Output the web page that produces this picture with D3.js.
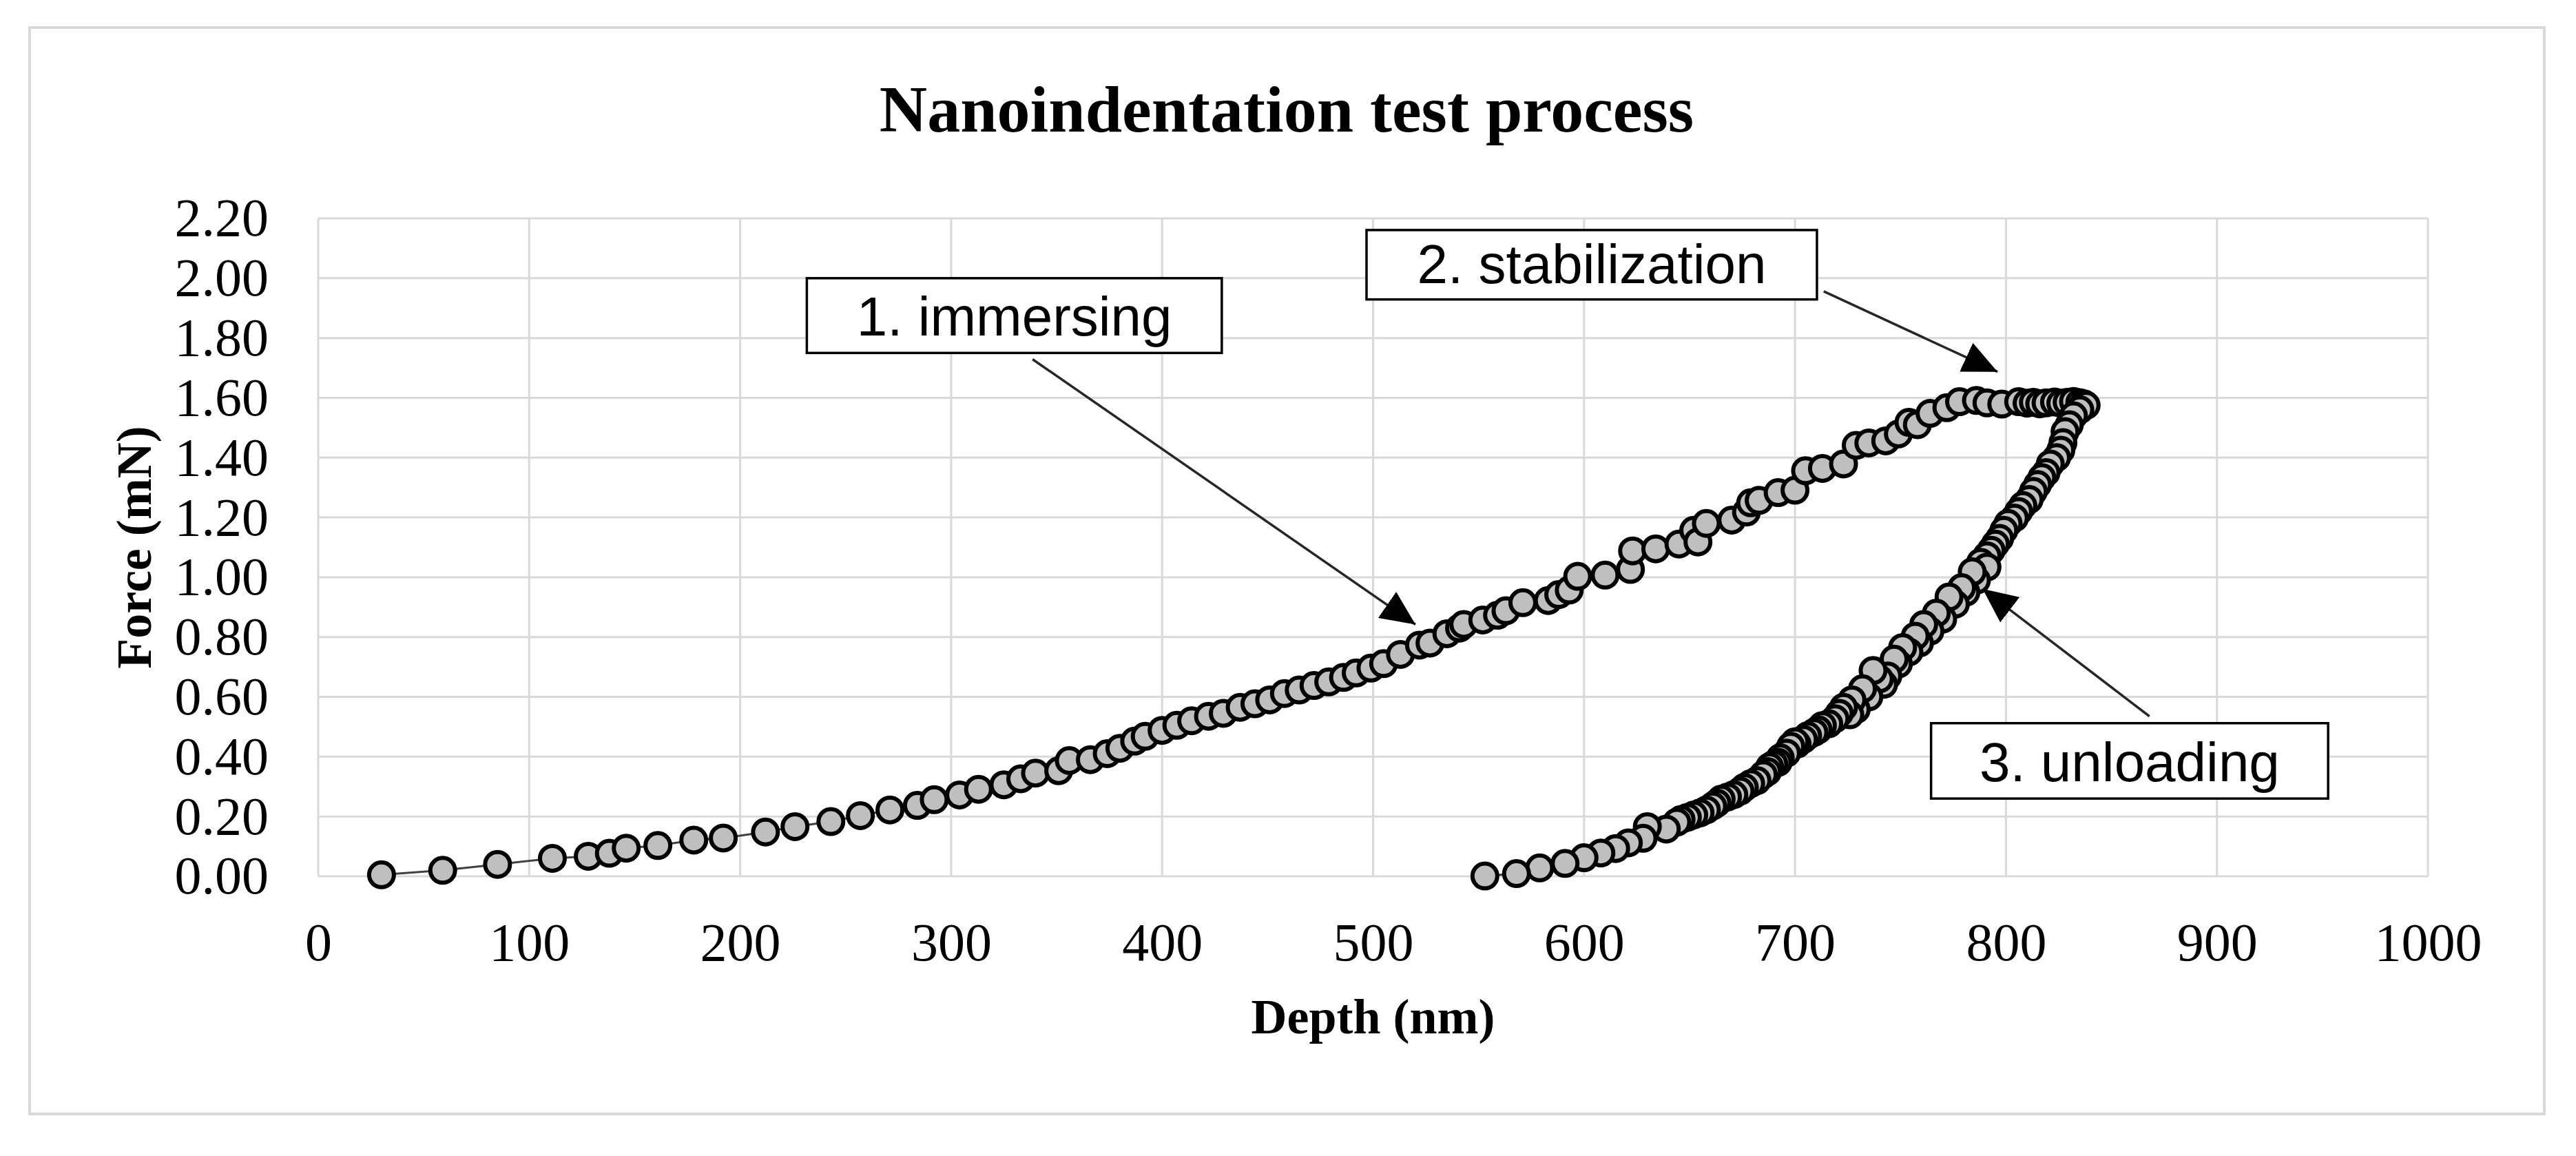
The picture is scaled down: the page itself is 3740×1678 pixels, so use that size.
<!DOCTYPE html>
<html>
<head>
<meta charset="utf-8">
<script src="https://cdn.jsdelivr.net/npm/d3@7"></script>
<style>
  body { margin: 0; background: #fff; }
</style>
</head>
<body>
<div id="chart"></div>
<script>
// loading branch (depth in nm, force in mN)
const loadDepth = [30, 59, 85, 111, 128, 138, 146, 161, 178, 192,
  212, 226, 243, 257, 271, 284, 292, 304, 313, 325,
  333, 340, 351, 356, 366, 374, 380, 387, 392, 400,
  407, 414, 422, 429, 437, 444, 451, 458, 465, 472,
  479, 486, 492, 499, 505, 513, 522, 527, 535, 541,
  543, 552, 559, 563, 571, 583, 588, 593, 597, 610,
  622, 623, 634, 645, 652, 654, 658, 670, 677, 679,
  683, 692, 700, 705, 713, 723, 729, 735, 743, 749,
  754, 758, 764, 772, 778, 786, 791, 798, 806, 810,
  813, 816, 819, 823, 826, 829, 832, 835, 837];
const loadForce = [0.005, 0.02, 0.04, 0.06, 0.067, 0.077, 0.094, 0.103, 0.121, 0.128,
  0.148, 0.166, 0.183, 0.203, 0.222, 0.237, 0.256, 0.272, 0.291, 0.306,
  0.326, 0.345, 0.353, 0.387, 0.39, 0.41, 0.428, 0.452, 0.468, 0.488,
  0.505, 0.52, 0.535, 0.545, 0.565, 0.577, 0.59, 0.611, 0.623, 0.638,
  0.65, 0.665, 0.68, 0.696, 0.711, 0.742, 0.773, 0.78, 0.811, 0.83,
  0.842, 0.857, 0.873, 0.888, 0.915, 0.922, 0.942, 0.957, 1.003, 1.007,
  1.026, 1.088, 1.095, 1.111, 1.157, 1.118, 1.18, 1.191, 1.218, 1.249,
  1.257, 1.283, 1.291, 1.356, 1.364, 1.379, 1.441, 1.449, 1.456, 1.479,
  1.518, 1.51, 1.548, 1.567, 1.587, 1.591, 1.583, 1.579, 1.587, 1.582,
  1.585, 1.58, 1.583, 1.586, 1.582, 1.585, 1.588, 1.584, 1.58];

// unloading branch, from the top of the curve down to zero force
const unloadDepth = [838, 835, 832, 830, 828, 827, 826, 824, 821, 819,
  817, 815, 813, 811, 808, 806, 804, 801, 799, 797,
  795, 793, 791, 788, 791, 786, 784, 781, 779, 776,
  773, 770, 767, 764, 761, 759, 757, 754, 751, 749,
  747, 744, 742, 740, 737, 735, 732, 729, 727, 726,
  723, 721, 719, 716, 713, 711, 709, 706, 704, 701,
  700, 698, 696, 693, 692, 690, 688, 687, 685, 682,
  679, 676, 674, 671, 668, 665, 663, 661, 658, 655,
  652, 649, 646, 644, 639, 630, 628, 621, 615, 608,
  600, 591, 579, 568, 553];
const unloadForce = [1.575, 1.56, 1.54, 1.51, 1.487, 1.45, 1.425, 1.4, 1.379, 1.35,
  1.333, 1.31, 1.287, 1.26, 1.24, 1.22, 1.198, 1.18, 1.157, 1.13,
  1.111, 1.09, 1.072, 1.05, 1.034, 0.99, 1.018, 0.95, 0.965, 0.91,
  0.934, 0.86, 0.88, 0.82, 0.842, 0.78, 0.803, 0.75, 0.765, 0.71,
  0.726, 0.67, 0.642, 0.66, 0.688, 0.6, 0.627, 0.558, 0.59, 0.54,
  0.565, 0.545, 0.527, 0.51, 0.504, 0.49, 0.481, 0.47, 0.458, 0.442,
  0.45, 0.435, 0.412, 0.396, 0.381, 0.375, 0.366, 0.35, 0.34, 0.32,
  0.31, 0.297, 0.285, 0.273, 0.265, 0.258, 0.245, 0.235, 0.222, 0.212,
  0.205, 0.197, 0.19, 0.181, 0.158, 0.166, 0.127, 0.112, 0.093, 0.078,
  0.062, 0.043, 0.028, 0.009, 0.001];

const xTicks = [0, 100, 200, 300, 400, 500, 600, 700, 800, 900, 1000];
const yTicks = [0, 0.2, 0.4, 0.6, 0.8, 1.0, 1.2, 1.4, 1.6, 1.8, 2.0, 2.2];

// callouts, in data units: box corners and arrow from/to
const noteText = ["1. immersing", "2. stabilization", "3. unloading"];
const noteBox = [[231.6, 2.0, 428.3, 1.75], [496.9, 2.161, 710.4, 1.929], [764.5, 0.512, 952.7, 0.26]];
const noteArrow = [[338.6, 1.729, 520.1, 0.842], [713.6, 1.956, 796.0, 1.687], [868.0, 0.535, 788.9, 0.961]];

const W = 3740, H = 1678;
const margin = { top: 317, right: 215, bottom: 406, left: 462 };
const width = W - margin.left - margin.right;
const height = H - margin.top - margin.bottom;

const points = loadDepth.map((d, i) => ({ x: d, y: loadForce[i] }))
  .concat(unloadDepth.map((d, i) => ({ x: d, y: unloadForce[i] })));

const svg = d3.select("#chart").append("svg")
  .attr("width", W)
  .attr("height", H);

// chart frame
svg.append("rect")
  .attr("x", 43).attr("y", 40)
  .attr("width", 3651).attr("height", 1577)
  .attr("fill", "#fff")
  .attr("stroke", "#d9d9d9")
  .attr("stroke-width", 4);

svg.append("text")
  .attr("x", 1868)
  .attr("y", 191)
  .attr("text-anchor", "middle")
  .style("font-family", "'Liberation Serif', 'Times New Roman', serif")
  .style("font-weight", "bold")
  .style("font-size", "96px")
  .text("Nanoindentation test process");

const x = d3.scaleLinear().domain([0, 1000]).range([0, width]);
const y = d3.scaleLinear().domain([0, 2.2]).range([height, 0]);

const g = svg.append("g")
  .attr("transform", "translate(" + margin.left + "," + margin.top + ")");

// gridlines
g.selectAll(".vgrid").data(xTicks).enter().append("line")
  .attr("x1", d => x(d)).attr("x2", d => x(d))
  .attr("y1", 0).attr("y2", height)
  .attr("stroke", "#d9d9d9").attr("stroke-width", 3);
g.selectAll(".hgrid").data(yTicks).enter().append("line")
  .attr("x1", 0).attr("x2", width)
  .attr("y1", d => y(d)).attr("y2", d => y(d))
  .attr("stroke", "#d9d9d9").attr("stroke-width", 3);

// axes (labels only)
const xAxis = g.append("g")
  .attr("transform", "translate(0," + height + ")")
  .call(d3.axisBottom(x).tickValues(xTicks).tickFormat(d3.format("d")).tickSize(0).tickPadding(67));
const yAxis = g.append("g")
  .call(d3.axisLeft(y).tickValues(yTicks).tickFormat(d3.format(".2f")).tickSize(0).tickPadding(72));
[xAxis, yAxis].forEach(a => {
  a.select(".domain").remove();
  a.selectAll("text")
    .style("font-family", "'Liberation Serif', 'Times New Roman', serif")
    .style("font-size", "78px")
    .attr("fill", "#000");
});

g.append("text")
  .attr("x", width / 2)
  .attr("y", height + 228)
  .attr("text-anchor", "middle")
  .style("font-family", "'Liberation Serif', 'Times New Roman', serif")
  .style("font-weight", "bold")
  .style("font-size", "72px")
  .text("Depth (nm)");

g.append("text")
  .attr("transform", "translate(" + (195 - margin.left + 24) + "," + height / 2 + ") rotate(-90)")
  .attr("text-anchor", "middle")
  .style("font-family", "'Liberation Serif', 'Times New Roman', serif")
  .style("font-weight", "bold")
  .style("font-size", "72px")
  .text("Force (mN)");

// series: thin connecting line, then markers
const line = d3.line().x(d => x(d.x)).y(d => y(d.y));
g.append("path")
  .datum(points)
  .attr("d", line)
  .attr("fill", "none")
  .attr("stroke", "#404040")
  .attr("stroke-width", 3);

g.selectAll(".pt").data(points).enter().append("circle")
  .attr("cx", d => x(d.x))
  .attr("cy", d => y(d.y))
  .attr("r", 18)
  .attr("fill", "#bfbfbf")
  .attr("stroke", "#000")
  .attr("stroke-width", 6);

// callouts
svg.append("defs").append("marker")
  .attr("id", "head")
  .attr("markerUnits", "userSpaceOnUse")
  .attr("markerWidth", 52).attr("markerHeight", 46)
  .attr("refX", 50).attr("refY", 23)
  .attr("orient", "auto")
  .append("path")
  .attr("d", "M0,0 L50,23 L0,46 Z")
  .attr("fill", "#000");

noteArrow.forEach(a => {
  g.append("line")
    .attr("x1", x(a[0])).attr("y1", y(a[1]))
    .attr("x2", x(a[2])).attr("y2", y(a[3]))
    .attr("stroke", "#262626")
    .attr("stroke-width", 3.5)
    .attr("marker-end", "url(#head)");
});

noteBox.forEach((b, i) => {
  const bx = x(b[0]), by = y(b[1]);
  const bw = x(b[2]) - bx, bh = y(b[3]) - by;
  g.append("rect")
    .attr("x", bx).attr("y", by)
    .attr("width", bw).attr("height", bh)
    .attr("fill", "#fff")
    .attr("stroke", "#000")
    .attr("stroke-width", 3.5);
  g.append("text")
    .attr("x", bx + bw / 2)
    .attr("y", by + bh * 0.77)
    .attr("text-anchor", "middle")
    .style("font-family", "'Liberation Sans', Arial, sans-serif")
    .style("font-size", "80px")
    .text(noteText[i]);
});
</script>
</body>
</html>
